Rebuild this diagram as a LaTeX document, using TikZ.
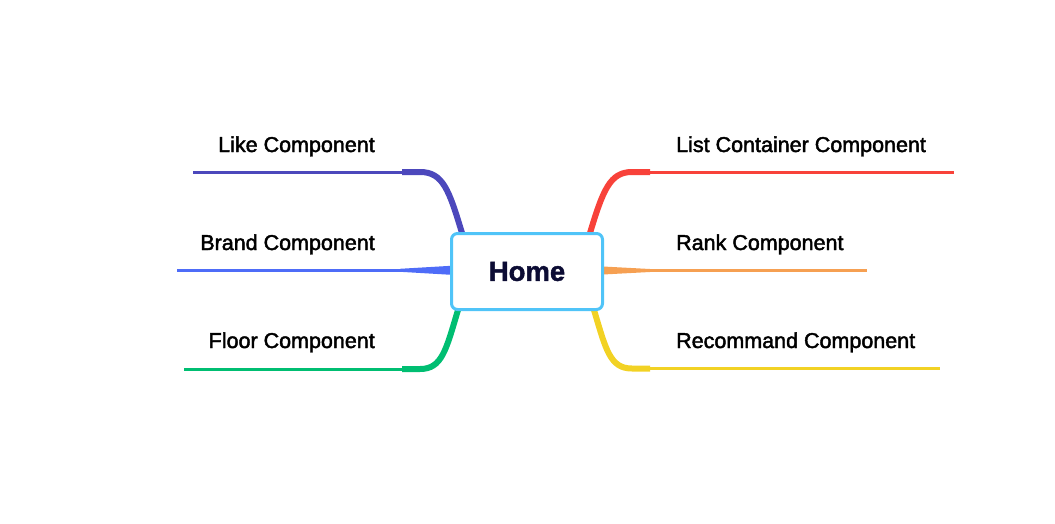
\documentclass[tikz,border=0pt]{standalone}
\usepackage{fontspec}
\setmainfont{Liberation Sans}
\newfontfamily\medfont{Liberation Sans}[FakeBold=2]
\newfontfamily\homefont{Liberation Sans Bold}[FakeBold=1.5]
\definecolor{cLike}{RGB}{76,72,188}
\definecolor{cBrand}{RGB}{78,108,248}
\definecolor{cFloor}{RGB}{0,190,114}
\definecolor{cList}{RGB}{248,66,58}
\definecolor{cRank}{RGB}{246,160,82}
\definecolor{cRec}{RGB}{242,210,36}
\definecolor{cBox}{RGB}{80,196,248}
\definecolor{cHome}{RGB}{12,12,52}
\tikzset{
  lbl/.style={font=\medfont\fontsize{21.5}{24}\selectfont, inner sep=0pt},
  thin/.style={line width=3pt},
  thick/.style={line width=6pt},
  homebox/.style={draw=cBox, line width=3pt, fill=white, rounded corners=6pt,
    minimum width=151pt, minimum height=76pt, inner sep=0pt,
    font=\homefont\fontsize{27.5}{30}\selectfont, text=cHome}
}
\begin{document}
\begin{tikzpicture}[x=1pt,y=-1pt]
\useasboundingbox (0,0) rectangle (1055,523);
% end and joint coordinates
\coordinate (likeStart) at (462,233);
\coordinate (likeJoint) at (402,172);
\coordinate (likeEnd) at (193,172);
\coordinate (brandStart) at (451,270.3);
\coordinate (brandJoint) at (400,270.3);
\coordinate (brandEnd) at (177,270.3);
\coordinate (floorStart) at (458,310);
\coordinate (floorJoint) at (402,369);
\coordinate (floorEnd) at (184,369);
\coordinate (listStart) at (590,233);
\coordinate (listJoint) at (650,172);
\coordinate (listEnd) at (954,172);
\coordinate (rankStart) at (603,270.5);
\coordinate (rankJoint) at (650,270.5);
\coordinate (rankEnd) at (867,270.5);
\coordinate (recStart) at (594,310);
\coordinate (recJoint) at (650,368.5);
\coordinate (recEnd) at (940,368.5);
% left branches
\draw[cLike,thick] (likeStart) .. controls (449,190) and (443,172) .. (420,172) -- (likeJoint);
\draw[cLike,thin] (likeJoint) -- (likeEnd);
\fill[cBrand] ([yshift=4.5pt]brandStart) -- ([yshift=1.5pt]brandJoint) -- ([yshift=-1.5pt]brandJoint) -- ([yshift=-4.5pt]brandStart) -- cycle;
\draw[cBrand,thin] (brandJoint) -- (brandEnd);
\draw[cFloor,thick] (floorStart) .. controls (446,350) and (442,369) .. (420,369) -- (floorJoint);
\draw[cFloor,thin] (floorJoint) -- (floorEnd);
% right branches
\draw[cList,thick] (listStart) .. controls (603,190) and (610,172) .. (632,172) -- (listJoint);
\draw[cList,thin] (listJoint) -- (listEnd);
\fill[cRank] ([yshift=4pt]rankStart) -- ([yshift=1.5pt]rankJoint) -- ([yshift=-1.5pt]rankJoint) -- ([yshift=-4pt]rankStart) -- cycle;
\draw[cRank,thin] (rankJoint) -- (rankEnd);
\draw[cRec,thick] (recStart) .. controls (606,350) and (610,368.5) .. (632,368.5) -- (recJoint);
\draw[cRec,thin] (recJoint) -- (recEnd);
% central node
\node[homebox] (home) at (527,271.5) {Home};
% labels
\node[lbl, anchor=base east] (like) at (375,152) {Like Component};
\node[lbl, anchor=base east] (brand) at (375,250) {Brand Component};
\node[lbl, anchor=base east] (floor) at (375,348) {Floor Component};
\node[lbl, anchor=base west] (list) at (676,152) {List Container Component};
\node[lbl, anchor=base west] (rank) at (676,250) {Rank Component};
\node[lbl, anchor=base west] (rec) at (676,348) {Recommand Component};
\end{tikzpicture}
\end{document}
